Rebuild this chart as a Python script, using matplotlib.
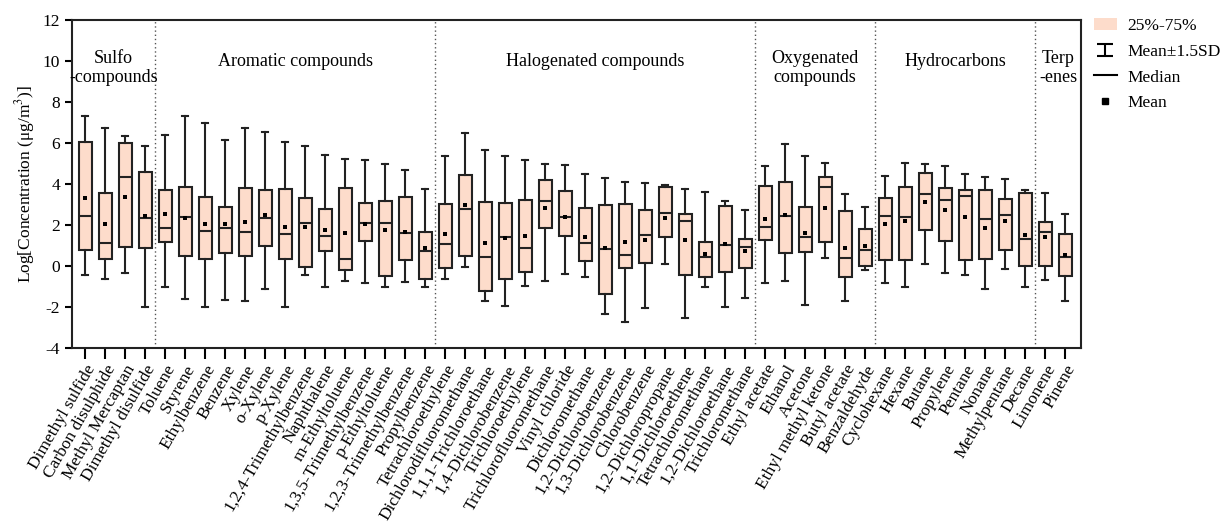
import matplotlib
matplotlib.use("Agg")
import matplotlib.pyplot as plt
from matplotlib.lines import Line2D
from matplotlib.patches import Patch
from matplotlib.path import Path

plt.rcParams['font.family'] = ['Liberation Serif', 'DejaVu Serif']
plt.rcParams['mathtext.fontset'] = 'stix'
plt.rcParams['axes.unicode_minus'] = False

compounds = [
    "Dimethyl sulfide", "Carbon disulphide", "Methyl Mercaptan", "Dimethyl disulfide",
    "Toluene", "Styrene", "Ethylbenzene", "Benzene", "Xylene", "o-Xylene", "p-Xylene",
    "1,2,4-Trimethylbenzene", "Naphthalene", "m-Ethyltoluene", "1,3,5-Trimethylbenzene",
    "p-Ethyltoluene", "1,2,3-Trimethylbenzene", "Propylbenzene",
    "Tetrachloroethylene", "Dichlorodifluoromethane", "1,1,1-Trichloroethane",
    "1,4-Dichlorobenzene", "Trichloroethylene", "Trichlorofluoromethane", "Vinyl chloride",
    "Dichloromethane", "1,2-Dichlorobenzene", "1,3-Dichlorobenzene", "Chlorobenzene",
    "1,2-Dichloropropane", "1,1-Dichloroethene", "Tetrachloromethane", "1,2-Dichloroethane",
    "Trichloromethane",
    "Ethyl acetate", "Ethanol", "Acetone", "Ethyl methyl ketone", "Butyl acetate", "Benzaldehyde",
    "Cyclohexane", "Hexane", "Butane", "Propylene", "Pentane", "Nonane", "Methylpentane", "Decane",
    "Limonene", "Pinene",
]

whisker_high = [7.33, 6.72, 6.34, 5.85,
                6.41, 7.33, 6.99, 6.16, 6.72, 6.55, 6.03, 5.85, 5.41, 5.22, 5.17, 4.96, 4.67, 3.77,
                5.38, 6.49, 5.67, 5.38, 5.15, 4.99, 4.93, 4.47, 4.31, 4.08, 4.03, 3.95, 3.76, 3.61, 3.17, 2.72,
                4.89, 5.93, 5.35, 5.02, 3.53, 2.89,
                4.37, 5.02, 4.98, 4.88, 4.47, 4.36, 4.23, 3.72,
                3.54, 2.52]
q3 = [6.07, 3.54, 5.98, 4.59,
      3.71, 3.85, 3.37, 2.89, 3.82, 3.71, 3.77, 3.30, 2.76, 3.82, 3.09, 3.15, 3.35, 1.67,
      3.01, 4.46, 3.12, 3.06, 3.22, 4.18, 3.67, 2.81, 2.98, 3.01, 2.72, 3.85, 2.54, 1.17, 2.91, 1.30,
      3.92, 4.11, 2.89, 4.33, 2.67, 1.80,
      3.32, 3.85, 4.52, 3.82, 3.69, 3.69, 3.27, 3.54,
      2.16, 1.54]
median = [2.44, 1.11, 4.33, 2.34,
          1.85, 2.39, 1.71, 1.85, 1.64, 2.34, 1.56, 2.08, 1.48, 0.33, 2.08, 2.08, 1.63, 0.75,
          1.09, 2.78, 0.46, 1.40, 0.89, 3.15, 2.37, 1.12, 0.85, 0.52, 1.50, 2.60, 2.18, 0.42, 1.04, 0.94,
          1.92, 2.44, 1.40, 3.87, 0.37, 0.76,
          2.44, 2.41, 3.51, 3.22, 3.41, 2.29, 2.50, 1.33,
          1.66, 0.42]
mean = [3.33, 2.03, 3.38, 2.44,
        2.54, 2.33, 2.07, 2.03, 2.15, 2.49, 1.89, 1.89, 1.76, 1.61, 2.03, 1.76, 1.67, 0.86,
        1.54, 2.99, 1.14, 1.38, 1.48, 2.83, 2.41, 1.40, 0.86, 1.15, 1.25, 2.36, 1.27, 0.60, 1.07, 0.72,
        2.31, 2.47, 1.59, 2.83, 0.88, 0.98,
        2.03, 2.20, 3.14, 2.75, 2.37, 1.85, 2.21, 1.53,
        1.41, 0.52]
q1 = [0.78, 0.34, 0.91, 0.89,
      1.19, 0.47, 0.33, 0.62, 0.47, 0.98, 0.36, -0.07, 0.73, -0.20, 1.24, -0.49, 0.29, -0.62,
      -0.11, 0.50, -1.22, -0.65, -0.31, 1.85, 1.45, 0.23, -1.37, -0.11, 0.13, 1.40, -0.42, -0.54, -0.31, -0.11,
      1.25, 0.65, 0.68, 1.17, -0.55, 0.02,
      0.28, 0.28, 1.76, 1.22, 0.29, 0.34, 0.76, 0.02,
      0.00, -0.50]
whisker_low = [-0.46, -0.65, -0.36, -2.00,
               -1.01, -1.61, -2.00, -1.66, -1.72, -1.14, -2.00, -0.44, -1.01, -0.73, -0.81, -1.01, -0.80, -1.01,
               -0.65, -0.03, -1.69, -1.93, -0.96, -0.73, -0.39, -0.54, -2.33, -2.73, -2.07, 0.10, -2.55, -1.02, -2.00, -1.54,
               -0.83, -0.73, -1.92, 0.39, -1.71, -0.20,
               -0.81, -1.02, 0.10, -0.36, -0.42, -1.14, -0.16, -1.01,
               -0.67, -1.71]

group_names = ["Sulfo\n-compounds", "Aromatic compounds", "Halogenated compounds",
               "Oxygenated\ncompounds", "Hydrocarbons", "Terp\n-enes"]
group_sizes = [4, 14, 16, 6, 8, 2]

fill_color = "#FDDCCB"
edge_color = "#222222"

fig = plt.figure(figsize=(12.21, 5.25), dpi=100)
ax = fig.add_axes([72 / 1221, 1 - 348 / 525, (1081 - 72) / 1221, (348 - 20) / 525])

stats = []
for i, name in enumerate(compounds):
    stats.append(dict(label=name, med=median[i], q1=q1[i], q3=q3[i],
                      whislo=whisker_low[i], whishi=whisker_high[i], mean=mean[i], fliers=[]))

positions = list(range(len(compounds)))
ax.bxp(stats, positions=positions, widths=0.65, showmeans=True, showfliers=False,
       patch_artist=True, capwidths=0.32,
       boxprops=dict(facecolor=fill_color, edgecolor=edge_color, linewidth=1.5),
       whiskerprops=dict(color=edge_color, linewidth=1.5),
       capprops=dict(color=edge_color, linewidth=1.5),
       medianprops=dict(color=edge_color, linewidth=1.5),
       meanprops=dict(marker='s', markerfacecolor='black', markeredgewidth=0,
                      markersize=2.6))

ax.set_xlim(-0.65, 49.8)
ax.set_ylim(-4, 12)
ax.set_yticks(range(-4, 13, 2))
ax.set_xticks(positions)
ax.set_xticklabels(compounds, rotation=60, ha='right', rotation_mode='anchor', fontsize=12.5)
ax.tick_params(axis='y', labelsize=12.5, width=1.5, length=5, direction='out')
ax.tick_params(axis='x', width=1.5, length=8, direction='out', pad=2)
for sp in ax.spines.values():
    sp.set_linewidth(1.5)
    sp.set_color(edge_color)

ax.set_ylabel("Log[Concentration (μg/m$^3$)]", fontsize=12.5, labelpad=4)

# group dividers and labels
boundary = -0.5
for gi, (gname, gsize) in enumerate(zip(group_names, group_sizes)):
    end = boundary + gsize
    right = end if gi < len(group_sizes) - 1 else 49.8
    left = boundary if gi > 0 else -0.65
    if gi < len(group_sizes) - 1:
        ax.axvline(end, color='#555555', linestyle=(0, (1, 2)), linewidth=1.0)
    ypos = 10.0 if "\n" not in gname else 9.65
    ax.text((left + right) / 2, ypos, gname, ha='center', va='center', fontsize=13,
            linespacing=1.2)
    boundary = end

# legend
cap_path = Path([(-1, -0.8), (1, -0.8), (0, -0.8), (0, 0.8), (-1, 0.8), (1, 0.8)],
                [Path.MOVETO, Path.LINETO, Path.MOVETO, Path.LINETO, Path.MOVETO, Path.LINETO])
handles = [
    Patch(facecolor=fill_color, edgecolor='none', label='25%-75%'),
    Line2D([], [], linestyle='none', marker=cap_path, markersize=11, markerfacecolor='none',
           markeredgecolor='black', markeredgewidth=1.5, label='Mean±1.5SD'),
    Line2D([], [], color='black', linewidth=1.5, label='Median'),
    Line2D([], [], linestyle='none', marker='s', markersize=4, color='black', label='Mean'),
]
fig.legend(handles=handles, loc='upper left', bbox_to_anchor=(1094 / 1221, 1 - 18 / 525),
           frameon=False, fontsize=12.5, handlelength=1.3, handletextpad=0.6,
           labelspacing=0.55, borderaxespad=0, borderpad=0)

fig.savefig("out.png", dpi=100)
